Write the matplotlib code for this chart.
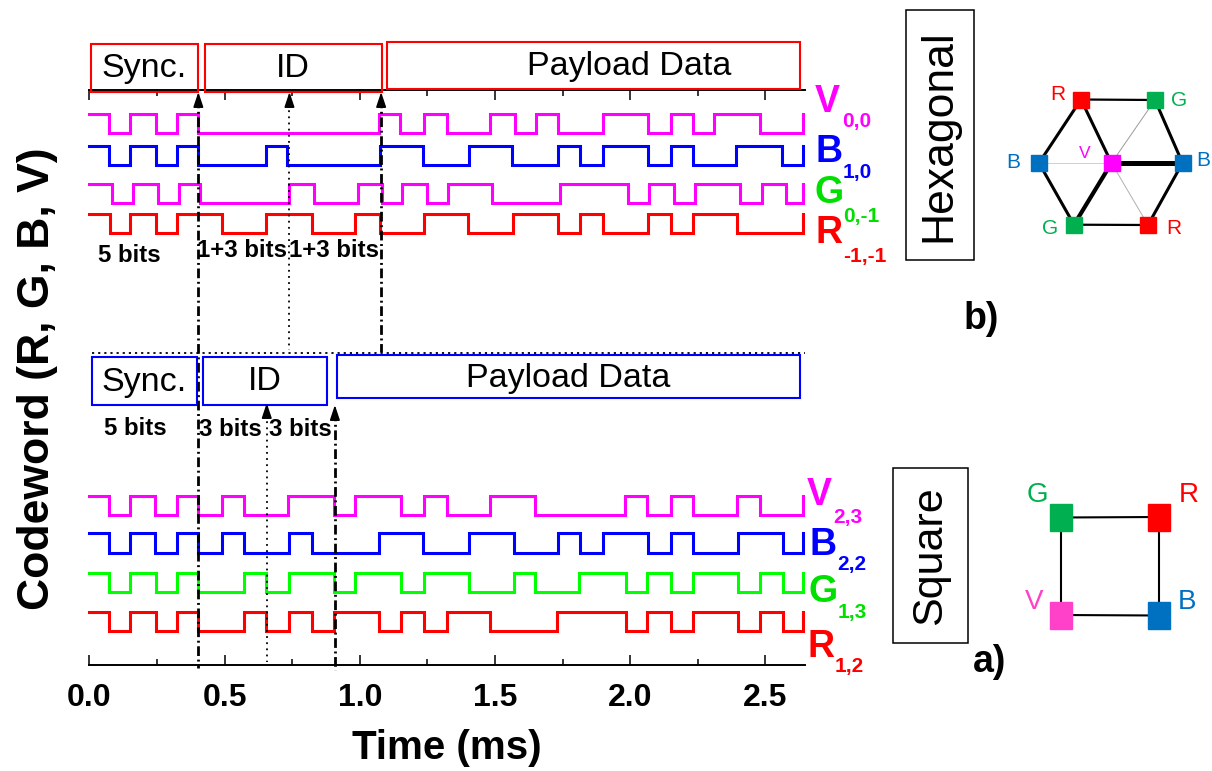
import matplotlib
matplotlib.use('Agg')
import matplotlib.pyplot as plt
from matplotlib.patches import Rectangle
from matplotlib.ticker import MultipleLocator

plt.rcParams['font.family'] = ['Liberation Sans', 'DejaVu Sans']

# ---------------- data ----------------
T_END = 2.640          # end of recorded waveforms (ms)
X_MAX = 2.645          # axis end (ms)
AMP = 19.5             # waveform swing (layout units)

# top panel (hexagonal constellation): letters, subscripts, colours, toggle times (ms), start level high
top_letters = ['V', 'B', 'G', 'R']
top_subs = ['0,0', '1,0', '0,-1', '-1,-1']
top_trace_colors = ['#FF00FF', '#0000FF', '#FF00FF', '#FF0000']
top_label_colors = ['#FF00FF', '#0000FF', '#00E000', '#FF0000']
top_edges = [
    [0.073, 0.150, 0.245, 0.323, 0.403, 1.071, 1.150, 1.239, 1.323, 1.481, 1.573,
     1.652, 1.735, 1.899, 2.065, 2.151, 2.231, 2.310, 2.480, 2.640],
    [0.073, 0.150, 0.245, 0.323, 0.403, 0.653, 0.732, 1.075, 1.235, 1.404, 1.562,
     1.732, 1.814, 1.898, 2.065, 2.150, 2.232, 2.393, 2.563, 2.640],
    [0.083, 0.162, 0.253, 0.333, 0.409, 0.738, 0.830, 0.992, 1.081, 1.158, 1.247,
     1.326, 1.488, 1.740, 1.993, 2.069, 2.163, 2.240, 2.406, 2.486, 2.575, 2.640],
    [0.076, 0.150, 0.245, 0.323, 0.492, 0.653, 0.822, 0.984, 1.075, 1.237, 1.401,
     1.565, 1.734, 1.814, 1.898, 2.065, 2.150, 2.233, 2.394, 2.640],
]

# bottom panel (square constellation)
bot_letters = ['V', 'B', 'G', 'R']
bot_subs = ['2,3', '2,2', '1,3', '1,2']
bot_trace_colors = ['#FF00FF', '#0000FF', '#00FF00', '#FF0000']
bot_label_colors = ['#FF00FF', '#0000FF', '#00E000', '#FF0000']
bot_edges = [
    [0.073, 0.150, 0.243, 0.323, 0.403, 0.491, 0.573, 0.733, 0.903, 0.984, 1.153,
     1.238, 1.323, 1.481, 1.650, 1.981, 2.063, 2.150, 2.233, 2.394, 2.480, 2.640],
    [0.073, 0.150, 0.243, 0.323, 0.403, 0.489, 0.573, 0.738, 0.822, 1.071, 1.235,
     1.404, 1.571, 1.732, 1.814, 1.898, 2.065, 2.150, 2.233, 2.400, 2.566, 2.640],
    [0.073, 0.150, 0.245, 0.323, 0.403, 0.573, 0.653, 0.738, 0.906, 0.984, 1.153,
     1.236, 1.404, 1.571, 1.650, 1.812, 1.984, 2.063, 2.150, 2.233, 2.400, 2.480,
     2.566, 2.640],
    [0.073, 0.150, 0.245, 0.323, 0.403, 0.573, 0.653, 0.738, 0.822, 0.906, 1.071,
     1.153, 1.236, 1.323, 1.481, 1.730, 1.984, 2.063, 2.150, 2.233, 2.400, 2.480,
     2.566, 2.640],
]

tick_values = [0.0, 0.5, 1.0, 1.5, 2.0, 2.5]
tick_labels = ['0.0', '0.5', '1.0', '1.5', '2.0', '2.5']

# frame sections
top_sections = ['Sync.', 'ID', 'Payload Data']
top_sec_t = [(0.006, 0.400), (0.428, 1.081), (1.101, 2.628)]
bot_sections = ['Sync.', 'ID', 'Payload Data']
bot_sec_t = [(0.008, 0.398), (0.419, 0.880), (0.917, 2.628)]

# boundary markers (ms)
top_sync_end = 0.403
top_id_mid = 0.740
top_id_end = 1.079
bot_id_mid = 0.656
bot_id_end = 0.908

# ---------------- layout (pixel based) ----------------
W, H = 1212, 771
fig = plt.figure(figsize=(W / 100, H / 100), dpi=100)
AXL, AXR, AXT, AXB = 89.4, 804.5, 90.0, 665.0
ax = fig.add_axes([AXL / W, 1 - AXB / H, (AXR - AXL) / W, (AXB - AXT) / H])
ax.set_xlim(0, X_MAX)
ax.set_ylim(AXB, AXT)      # y in pixel units from top
ax.patch.set_alpha(0)

top_low = [133.3, 165.0, 203.3, 233.3]
bot_low = [515.0, 552.7, 592.3, 631.3]


def wave(edges, t_end=T_END):
    t = [0.0] + list(edges)
    lv = [1]
    for _ in edges:
        lv.append(1 - lv[-1])
    t.append(t_end)
    lv.append(lv[-1])
    return t, lv


for edges, base, col in zip(top_edges, top_low, top_trace_colors):
    t, lv = wave(edges)
    ax.step(t, [base - AMP * v for v in lv], where='post', color=col, lw=2.2,
            solid_joinstyle='miter', clip_on=False, zorder=3)
for edges, base, col in zip(bot_edges, bot_low, bot_trace_colors):
    t, lv = wave(edges)
    ax.step(t, [base - AMP * v for v in lv], where='post', color=col, lw=2.2,
            solid_joinstyle='miter', clip_on=False, zorder=3)

# axes styling
for s in ['left', 'right']:
    ax.spines[s].set_visible(False)
for s in ['top', 'bottom']:
    ax.spines[s].set_linewidth(1.4)
ax.set_yticks([])
ax.xaxis.set_minor_locator(MultipleLocator(0.25))
ax.set_xticks(tick_values)
ax.set_xticklabels(tick_labels)
ax.tick_params(axis='x', which='both', direction='in', top=True, bottom=True,
               labeltop=False, width=1.1, pad=13)
ax.tick_params(axis='x', which='major', length=7.5, labelsize=23)
ax.tick_params(axis='x', which='minor', length=4)
for lb in ax.get_xticklabels():
    lb.set_fontweight('bold')

# section boxes
top_y = [(44, 92), (44, 92), (42, 89)]
top_txt_t = [0.203, 0.754, 1.995]
top_base = [77.0, 77.0, 75.5]
for name, (t0, t1), (y0, y1), tt, yb in zip(top_sections, top_sec_t, top_y,
                                            top_txt_t, top_base):
    ax.add_patch(Rectangle((t0, y0), t1 - t0, y1 - y0, fill=False, ec='#FF0000',
                           lw=1.5, clip_on=False, zorder=4))
    ax.text(tt, yb, name, ha='center', va='baseline', fontsize=24.5, clip_on=False)
bot_y = [(357, 405), (357, 405), (355, 398)]
bot_base = [390.5, 390.5, 387.5]
for name, (t0, t1), (y0, y1), yb in zip(bot_sections, bot_sec_t, bot_y, bot_base):
    ax.add_patch(Rectangle((t0, y0), t1 - t0, y1 - y0, fill=False, ec='#0000FF',
                           lw=1.5, clip_on=False, zorder=4))
    ax.text((t0 + t1) / 2, yb, name, ha='center', va='baseline', fontsize=24.5,
            clip_on=False)

# separator dotted line
ax.plot([0.01, X_MAX], [352.5, 352.5], color='k', lw=1.3, ls=(0, (1.2, 2.2)),
        clip_on=False, zorder=2)

DASHDOT = (0, (3.5, 1.3, 0.7, 1.3))
DOT = (0, (1.0, 2.4))


def vline(t, y_tip, y_end, style, lw):
    ax.plot([t, t], [y_tip + 6, y_end], color='k', lw=lw, ls=style,
            clip_on=False, zorder=5)
    ax.annotate('', xy=(t, y_tip), xytext=(t, y_tip + 11),
                arrowprops=dict(arrowstyle='-|>,head_length=0.9,head_width=0.3',
                                color='k', lw=1.2, shrinkA=0, shrinkB=0),
                annotation_clip=False, zorder=6)


vline(top_sync_end, 92, 668, DASHDOT, 2.0)
vline(top_id_mid, 92, 350, DOT, 1.3)
vline(top_id_end, 92, 352, DASHDOT, 2.0)
vline(bot_id_mid, 403, 662, DOT, 1.3)
vline(bot_id_end, 405, 670, DASHDOT, 2.0)

# ---------------- overlay (pixel coords) ----------------
ov = fig.add_axes([0, 0, 1, 1])
ov.set_xlim(0, W)
ov.set_ylim(H, 0)
ov.axis('off')
ov.patch.set_alpha(0)

# bits labels
for x, yb, s in [(98, 261.7, '5 bits'), (197, 256.7, '1+3 bits'), (289, 256.7, '1+3 bits'),
                 (104, 435, '5 bits'), (199, 436, '3 bits'), (269, 436, '3 bits')]:
    ov.text(x, yb, s, ha='left', va='baseline', fontsize=17.3, fontweight='bold')

# trace labels
top_lx = [815, 815, 815, 815]
top_lb = [112, 161.7, 203, 243.3]
top_sx = [842, 843, 843, 843]
top_sb = [127, 178, 221.7, 261.7]
for L, S, c, lx, lb, sx, sb in zip(top_letters, top_subs, top_label_colors,
                                   top_lx, top_lb, top_sx, top_sb):
    ov.text(lx, lb, L, color=c, fontsize=27, fontweight='bold', ha='left', va='baseline')
    ov.text(sx, sb, S, color=c, fontsize=15, fontweight='bold', ha='left', va='baseline')
bot_lx = [807, 810, 808, 807]
bot_lb = [505, 555, 602, 657]
bot_sx = [833, 837, 838, 835]
bot_sb = [523, 570, 618, 672]
for L, S, c, lx, lb, sx, sb in zip(bot_letters, bot_subs, bot_label_colors,
                                   bot_lx, bot_lb, bot_sx, bot_sb):
    ov.text(lx, lb, L, color=c, fontsize=27, fontweight='bold', ha='left', va='baseline')
    ov.text(sx, sb, S, color=c, fontsize=15, fontweight='bold', ha='left', va='baseline')

# axis titles
ov.text(38, 379, 'Codeword (R, G, B, V)', rotation=90, ha='center', va='center',
        fontsize=32, fontweight='bold')
ov.text(447, 748, 'Time (ms)', ha='center', va='center', fontsize=29, fontweight='bold')

# ---- hexagonal diagram ----
ov.add_patch(Rectangle((906, 10), 68, 250, fill=False, ec='k', lw=1.1))
ov.text(939, 136, 'Hexagonal', rotation=90, ha='center', va='center', fontsize=32)
ov.text(981, 319, 'b)', ha='center', va='center', fontsize=27, fontweight='bold')

RED, GRN, BLU, MAG = '#FF0000', '#00B050', '#0070C0', '#FF00FF'
hn = {'R1': (1081, 99.5), 'G1': (1155, 100), 'B1': (1039, 163), 'V': (1111.5, 163),
      'B2': (1182.5, 163), 'G2': (1074, 224.7), 'R2': (1148, 225)}
hcol = {'R1': RED, 'G1': GRN, 'B1': BLU, 'V': MAG, 'B2': BLU, 'G2': GRN, 'R2': RED}
hedges = [('R1', 'G1', 1.6, 'k'), ('G1', 'B2', 2.2, 'k'), ('B2', 'R2', 2.2, 'k'),
          ('R2', 'G2', 1.6, 'k'), ('G2', 'B1', 2.2, 'k'), ('B1', 'R1', 2.2, 'k'),
          ('R1', 'V', 2.2, 'k'), ('V', 'B2', 3.6, 'k'), ('V', 'G2', 3.0, 'k'),
          ('V', 'G1', 0.7, '#9a9a9a'), ('V', 'R2', 0.7, '#b0b0b0'),
          ('V', 'B1', 0.7, '#d0d0d0')]
for a, b, lw, c in hedges:
    ov.plot([hn[a][0], hn[b][0]], [hn[a][1], hn[b][1]], color=c, lw=lw,
            solid_capstyle='butt', zorder=2)
for k, (x, y) in hn.items():
    ov.add_patch(Rectangle((x - 8, y - 8), 16, 16, color=hcol[k], zorder=3))
for x, y, s, c, fs in [(1058, 95, 'R', RED, 15), (1179, 100, 'G', GRN, 15),
                       (1013, 163, 'B', BLU, 15), (1085, 154, 'V', MAG, 12.5),
                       (1203, 161, 'B', BLU, 15), (1050, 229, 'G', GRN, 15),
                       (1174, 229, 'R', RED, 15)]:
    ov.text(x, y, s, color=c, fontsize=fs, ha='center', va='center')

# ---- square diagram ----
ov.add_patch(Rectangle((893, 468), 75, 175, fill=False, ec='k', lw=1.1))
ov.text(930, 556, 'Square', rotation=90, ha='center', va='center', fontsize=31)
ov.text(990, 662, 'a)', ha='center', va='center', fontsize=27, fontweight='bold')
VPINK = '#FF40C8'
sn = {'G': (1060.5, 517.5), 'R': (1158.8, 517.0), 'V': (1060.5, 615.0), 'B': (1158.8, 615.5)}
scol = {'G': GRN, 'R': RED, 'V': VPINK, 'B': BLU}
for a, b in [('G', 'R'), ('R', 'B'), ('B', 'V'), ('V', 'G')]:
    ov.plot([sn[a][0], sn[b][0]], [sn[a][1], sn[b][1]], color='k', lw=1.5, zorder=2)
for k, (x, y) in sn.items():
    ov.add_patch(Rectangle((x - 11, y - 13.5), 22, 27, color=scol[k], zorder=3))
for x, y, s, c in [(1037, 495, 'G', GRN), (1189, 495, 'R', RED),
                   (1034, 602, 'V', VPINK), (1187, 602, 'B', BLU)]:
    ov.text(x, y, s, color=c, fontsize=20, ha='center', va='center')

fig.savefig('out.png', dpi=100)
